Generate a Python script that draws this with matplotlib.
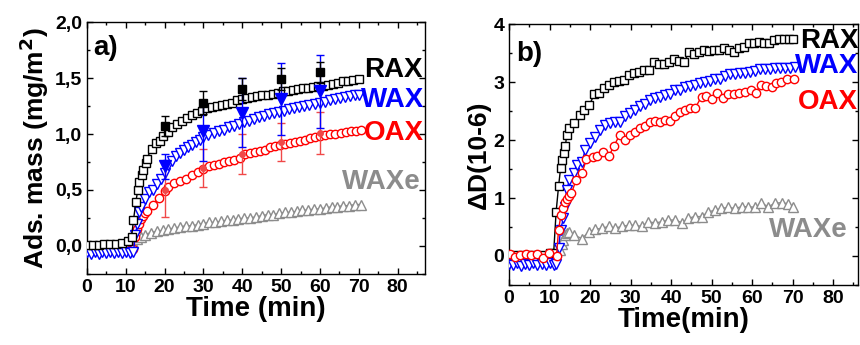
import matplotlib
matplotlib.use("Agg")
import matplotlib.pyplot as plt
from matplotlib.ticker import MultipleLocator, FuncFormatter

plt.rcParams['font.family'] = ['Liberation Sans', 'DejaVu Sans']
plt.rcParams['font.weight'] = 'bold'
plt.rcParams['mathtext.default'] = 'bf'

# ---- panel a) adsorbed mass (mg/m2) ----
a_rax_t = [0, 1.5, 3, 4.5, 6, 7.5, 9, 10.5, 11.5, 12, 12.6, 13.1, 13.5, 14.1, 14.5, 15.1,
           15.4, 16.7, 17.7, 18.7, 19.7, 20.8, 21.8, 23.1, 24.4, 25.7, 27, 28.3, 29.6, 30.9,
           32.2, 33.5, 34.8, 36.1, 37.4, 38.7, 40, 41.3, 42.6, 43.9, 45.2, 46.5, 47.8, 49.1,
           50.4, 51.7, 53, 54.3, 55.6, 56.9, 58.2, 59.5, 60.8, 62.1, 63.4, 64.7, 66, 67.3,
           68.6, 70]
a_rax_m = [0.01, 0.01, 0.01, 0.02, 0.02, 0.02, 0.03, 0.04, 0.08, 0.23, 0.39, 0.50, 0.57, 0.63,
           0.68, 0.74, 0.78, 0.87, 0.92, 0.94, 0.98, 1.02, 1.06, 1.09, 1.12, 1.14, 1.17, 1.19,
           1.21, 1.23, 1.24, 1.25, 1.26, 1.27, 1.28, 1.30, 1.31, 1.32, 1.33, 1.34, 1.35, 1.35,
           1.36, 1.37, 1.38, 1.38, 1.39, 1.40, 1.41, 1.41, 1.42, 1.43, 1.43, 1.44, 1.45, 1.46,
           1.47, 1.47, 1.48, 1.49]

a_wax_t = [0, 1, 2, 3, 4, 5, 6, 7, 8, 9, 10, 11, 12, 12.5, 13, 13.5, 14, 15, 16, 17, 18, 19,
           20, 21, 22, 23, 24, 25, 26, 27, 28, 29, 30, 31.3, 32.6, 33.9, 35.2, 36.5, 37.8,
           39.1, 40.4, 41.7, 43, 44.3, 45.6, 46.9, 48.2, 49.5, 50.8, 52.1, 53.4, 54.7, 56,
           57.3, 58.6, 59.9, 61.2, 62.5, 63.8, 65.1, 66.4, 67.7, 69, 70]
a_wax_m = [-0.05, -0.07, -0.05, -0.07, -0.05, -0.06, -0.05, -0.06, -0.05, -0.06, -0.05, -0.06,
           -0.05, 0.10, 0.20, 0.30, 0.35, 0.42, 0.48, 0.50, 0.55, 0.60, 0.65, 0.72, 0.76, 0.80,
           0.83, 0.86, 0.88, 0.90, 0.93, 0.95, 0.97, 0.99, 1.01, 1.03, 1.04, 1.06, 1.07, 1.09,
           1.11, 1.12, 1.13, 1.15, 1.16, 1.18, 1.19, 1.20, 1.21, 1.22, 1.23, 1.24, 1.25, 1.26,
           1.27, 1.28, 1.29, 1.30, 1.31, 1.32, 1.33, 1.34, 1.35, 1.35]

a_oax_t = [0, 1, 2, 3, 4, 5, 6, 7, 8, 9, 10, 11, 12, 12.5, 13, 13.5, 14, 14.5, 15, 15.5, 17,
           18.5, 20, 21, 22.5, 24, 25.5, 27, 28.5, 30, 31.5, 32.8, 34.1, 35.4, 36.7, 38, 39.3,
           40.6, 41.9, 43.2, 44.5, 45.8, 47.1, 48.4, 49.7, 51, 52.3, 53.6, 54.9, 56.2, 57.5,
           58.8, 60.1, 61.4, 62.7, 64, 65.3, 66.6, 67.9, 69.2, 70.5]
a_oax_m = [-0.03, -0.04, -0.03, -0.04, -0.03, -0.04, -0.04, -0.03, -0.04, -0.04, -0.03, -0.04,
           -0.03, 0.08, 0.15, 0.20, 0.24, 0.27, 0.29, 0.31, 0.37, 0.43, 0.49, 0.53, 0.56, 0.58,
           0.60, 0.63, 0.66, 0.69, 0.71, 0.72, 0.73, 0.75, 0.76, 0.77, 0.79, 0.82, 0.83, 0.84,
           0.85, 0.86, 0.88, 0.89, 0.90, 0.91, 0.92, 0.93, 0.94, 0.95, 0.96, 0.97, 0.98, 0.99,
           1.00, 1.00, 1.01, 1.02, 1.03, 1.03, 1.04]

a_waxe_t = [0, 1.5, 3, 4.5, 6, 7.5, 9, 10.5, 12, 13, 14, 15, 16.5, 18, 19.5, 21, 22.5, 24,
            25.5, 27, 28.5, 30, 31.5, 33, 34.5, 36, 37.5, 39, 40.5, 42, 43.5, 45, 46.5, 48,
            49.5, 51, 52.5, 54, 55.5, 57, 58.5, 60, 61.5, 63, 64.5, 66, 67.5, 69, 70.5]
a_waxe_m = [0.0, 0.0, 0.0, 0.0, 0.0, 0.0, 0.0, 0.0, 0.03, 0.06, 0.08, 0.10, 0.12, 0.13, 0.14,
            0.15, 0.16, 0.17, 0.18, 0.18, 0.19, 0.20, 0.21, 0.21, 0.22, 0.23, 0.23, 0.24, 0.25,
            0.25, 0.26, 0.27, 0.28, 0.28, 0.29, 0.30, 0.30, 0.31, 0.32, 0.32, 0.33, 0.33, 0.34,
            0.35, 0.35, 0.36, 0.36, 0.37, 0.37]

# averaged replicates with standard deviations
a_err_t = [20, 30, 40, 50, 60]
a_rax_avg = [1.07, 1.28, 1.40, 1.49, 1.55]
a_rax_sd = [0.09, 0.10, 0.10, 0.10, 0.09]
a_wax_avg = [0.71, 1.03, 1.19, 1.31, 1.38]
a_wax_sd = [0.11, 0.27, 0.31, 0.32, 0.33]
a_oax_avg = [0.50, 0.70, 0.82, 0.93, 1.01]
a_oax_sd = [0.24, 0.17, 0.18, 0.17, 0.19]

# ---- panel b) dissipation shift ----
b_rax_t = [0, 2, 4, 6, 8, 10, 11, 11.6, 12.2, 12.7, 13.1, 13.6, 13.9, 14.2, 14.9, 16.1, 17.4,
           18.5, 19.8, 21, 22.2, 23.5, 24.7, 25.9, 27.2, 28.4, 29.6, 30.9, 32.1, 33.3, 34.6,
           35.8, 37.1, 38.3, 39.5, 40.8, 42, 43.2, 44.5, 45.7, 46.9, 48.1, 49.4, 50.6, 51.8,
           53.1, 54.3, 55.6, 56.8, 58, 59.3, 60.5, 61.7, 63, 64.2, 65.4, 66.7, 67.9, 69.1, 70.2]
b_rax_d = [0.02, 0.01, 0.02, 0.01, 0.02, 0.05, 0.06, 0.76, 1.20, 1.51, 1.66, 1.77, 1.89, 2.09,
           2.20, 2.29, 2.43, 2.52, 2.60, 2.79, 2.82, 2.89, 2.95, 3.00, 3.02, 3.03, 3.12, 3.16,
           3.18, 3.21, 3.21, 3.35, 3.32, 3.32, 3.35, 3.40, 3.37, 3.35, 3.52, 3.49, 3.52, 3.55,
           3.54, 3.56, 3.55, 3.58, 3.56, 3.52, 3.58, 3.61, 3.67, 3.68, 3.70, 3.67, 3.67, 3.72,
           3.74, 3.74, 3.74, 3.75]

b_wax_t = [0, 1, 2, 3, 4, 5, 6, 7, 8, 9, 10, 11, 11.6, 12.2, 12.7, 13.4, 13.8, 14.2, 14.9,
           15.9, 16.7, 18, 18.8, 20, 21.3, 22.5, 23.7, 25, 26.2, 27.4, 28.7, 29.9, 31.1, 32.4,
           33.6, 34.8, 36.1, 37.3, 38.5, 39.8, 41, 42.2, 43.5, 44.7, 45.9, 47.2, 48.4, 49.6,
           50.9, 52.1, 53.3, 54.6, 55.8, 57, 58.3, 59.5, 60.7, 62, 63.2, 64.4, 65.7, 66.9,
           68.1, 69.4, 70.6]
b_wax_d = [-0.13, -0.16, -0.12, -0.18, -0.13, -0.15, -0.12, -0.16, -0.13, -0.15, -0.12, -0.16,
           -0.14, 0.13, 0.45, 0.65, 0.85, 1.14, 1.31, 1.43, 1.57, 1.63, 1.83, 1.95, 2.06, 2.17,
           2.26, 2.30, 2.32, 2.32, 2.41, 2.46, 2.52, 2.59, 2.63, 2.69, 2.72, 2.74, 2.78, 2.80,
           2.86, 2.87, 2.91, 2.93, 2.95, 2.98, 3.01, 3.02, 3.05, 3.06, 3.10, 3.14, 3.14, 3.15,
           3.16, 3.18, 3.20, 3.22, 3.22, 3.22, 3.24, 3.24, 3.24, 3.25, 3.26]

b_oax_t = [0.2, 1.5, 2.7, 4.2, 5.4, 6.8, 8.4, 9.9, 11.7, 12.2, 12.8, 13.3, 13.7, 14.2, 14.9,
           15.4, 16.5, 18, 19.1, 20.6, 21.8, 23.2, 24.6, 25.9, 27.3, 28.5, 29.8, 31, 32.3,
           33.5, 34.7, 36, 37.2, 38.4, 39.7, 40.9, 42.1, 43.4, 44.6, 46, 47.5, 48.7, 50, 51.4,
           52.8, 54.1, 55.5, 56.8, 58.2, 59.6, 60.9, 62.1, 63.4, 64.8, 66, 67.2, 68.5, 70.4]
b_oax_d = [0.03, -0.02, 0.02, 0.03, 0.02, 0.03, -0.04, 0.05, 0.0, 0.45, 0.71, 0.82, 0.94, 0.99,
           1.03, 1.08, 1.31, 1.43, 1.67, 1.70, 1.72, 1.80, 1.72, 1.90, 2.09, 2.00, 2.09, 2.14,
           2.20, 2.24, 2.32, 2.33, 2.32, 2.34, 2.33, 2.41, 2.49, 2.52, 2.55, 2.56, 2.75, 2.76,
           2.70, 2.82, 2.72, 2.80, 2.80, 2.82, 2.83, 2.86, 2.82, 2.95, 2.93, 2.91, 2.98, 3.01,
           3.05, 3.05]

b_waxe_t = [12.5, 13, 13.4, 13.8, 14.2, 14.9, 16, 18, 19.7, 21.3, 23, 24.6, 26.2, 27.8, 29.5,
            31.1, 32.7, 34.4, 36, 37.7, 39.3, 41, 42.8, 44.2, 45.8, 47.5, 49.2, 50.8, 52.4,
            54.1, 55.7, 57.4, 59, 60.7, 62.3, 64, 65.6, 67.3, 68.9, 70.2]
b_waxe_d = [0.10, 0.20, 0.28, 0.36, 0.39, 0.42, 0.36, 0.30, 0.42, 0.46, 0.48, 0.51, 0.48, 0.51,
            0.53, 0.53, 0.51, 0.59, 0.57, 0.59, 0.62, 0.62, 0.57, 0.65, 0.68, 0.68, 0.76, 0.79,
            0.82, 0.84, 0.82, 0.85, 0.85, 0.84, 0.91, 0.85, 0.91, 0.92, 0.90, 0.85]

GRAY = '#8c8c8c'
MS = {'s': 5.2, 'o': 6.0, 'v': 7.0, '^': 7.0}
label_font = dict(fontsize=20, fontweight='bold')


def comma_fmt(v, pos):
    return f"{v:.1f}".replace('.', ',')


def open_curve(ax, t, y, marker, color, z=3):
    ax.plot(t, y, '-' + marker, color=color, markeredgecolor=color, markerfacecolor='white',
            markersize=MS[marker], markeredgewidth=1.0, linewidth=1.0, zorder=z)


def style_axes(ax):
    ax.tick_params(which='both', direction='in', top=True, right=True, labelsize=14,
                   width=1.0)
    ax.tick_params(which='major', length=4)
    ax.tick_params(which='minor', length=2.5)
    ax.xaxis.set_major_locator(MultipleLocator(10))
    ax.xaxis.set_minor_locator(MultipleLocator(5))
    for s in ax.spines.values():
        s.set_linewidth(1.0)
    for lab in ax.get_xticklabels() + ax.get_yticklabels():
        lab.set_fontweight('bold')


fig = plt.figure(figsize=(8.6, 3.45), dpi=100)
ax1 = fig.add_axes([0.101, 0.206, 0.393, 0.730])
ax2 = fig.add_axes([0.592, 0.174, 0.406, 0.756])

# panel a
open_curve(ax1, a_waxe_t, a_waxe_m, '^', GRAY, z=2)
open_curve(ax1, a_oax_t, a_oax_m, 'o', 'red')
open_curve(ax1, a_wax_t, a_wax_m, 'v', 'blue')
open_curve(ax1, a_rax_t, a_rax_m, 's', 'black')
ax1.errorbar(a_err_t, a_oax_avg, yerr=a_oax_sd, fmt='o', color='#f04848', ms=4,
             capsize=3, elinewidth=1.0, capthick=1.0, zorder=4)
ax1.errorbar(a_err_t, a_wax_avg, yerr=a_wax_sd, fmt='v', color='blue', ms=8,
             capsize=3, elinewidth=1.0, capthick=1.0, zorder=4)
ax1.errorbar(a_err_t, a_rax_avg, yerr=a_rax_sd, fmt='s', color='black', ms=5.5,
             capsize=3, elinewidth=1.0, capthick=1.0, zorder=4)

ax1.set_xlim(0, 87)
ax1.set_ylim(-0.25, 2.0)
ax1.yaxis.set_major_locator(MultipleLocator(0.5))
ax1.yaxis.set_minor_locator(MultipleLocator(0.25))
ax1.yaxis.set_major_formatter(FuncFormatter(comma_fmt))
style_axes(ax1)
ax1.set_xlabel('Time (min)', fontsize=20, fontweight='bold', labelpad=0)
ax1.set_ylabel('Ads. mass (mg/m$^{2}$)', fontsize=19, fontweight='bold', labelpad=3)
ax1.text(0.02, 0.87, 'a)', transform=ax1.transAxes, **label_font)
ax1.text(86.5, 1.57, 'RAX', color='black', ha='right', va='center', clip_on=False, **label_font)
ax1.text(86.8, 1.30, 'WAX', color='blue', ha='right', va='center', clip_on=False, **label_font)
ax1.text(86.8, 1.01, 'OAX', color='red', ha='right', va='center', clip_on=False, **label_font)
ax1.text(86.0, 0.57, 'WAXe', color=GRAY, ha='right', va='center', clip_on=False, **label_font)

# panel b
open_curve(ax2, b_waxe_t, b_waxe_d, '^', GRAY, z=2)
open_curve(ax2, b_rax_t, b_rax_d, 's', 'black')
open_curve(ax2, b_wax_t, b_wax_d, 'v', 'blue')
open_curve(ax2, b_oax_t, b_oax_d, 'o', 'red')

ax2.set_xlim(0, 86.2)
ax2.set_ylim(-0.5, 4.0)
ax2.yaxis.set_major_locator(MultipleLocator(1))
ax2.yaxis.set_minor_locator(MultipleLocator(0.5))
style_axes(ax2)
ax2.set_xlabel('Time(min)', fontsize=20, fontweight='bold', labelpad=0)
ax2.set_ylabel('ΔD(10-6)', fontsize=19, fontweight='bold', labelpad=2)
ax2.text(0.02, 0.86, 'b)', transform=ax2.transAxes, **label_font)
ax2.text(86.2, 3.71, 'RAX', color='black', ha='right', va='center', clip_on=False, **label_font)
ax2.text(86.2, 3.28, 'WAX', color='blue', ha='right', va='center', clip_on=False, **label_font)
ax2.text(86.0, 2.66, 'OAX', color='red', ha='right', va='center', clip_on=False, **label_font)
ax2.text(83.5, 0.45, 'WAXe', color=GRAY, ha='right', va='center', clip_on=False, **label_font)

fig.savefig('out.png', dpi=100)
